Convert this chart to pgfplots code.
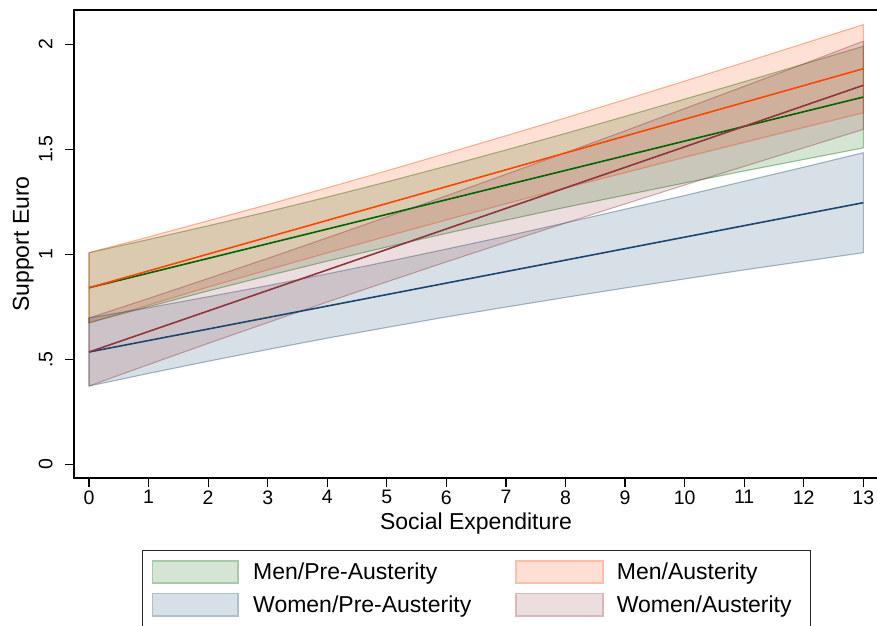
\documentclass[border=0pt]{standalone}
\usepackage{fontspec}
\setmainfont{Liberation Sans}
\usepackage{pgfplots}
\pgfplotsset{compat=1.18}
\definecolor{cgreen}{RGB}{0,100,0}
\definecolor{corange}{RGB}{255,69,0}
\definecolor{cnavy}{RGB}{26,71,111}
\definecolor{cmaroon}{RGB}{144,53,59}
\tikzset{band/.style={fill=#1, fill opacity=0.17, draw=#1, draw opacity=0.38, line width=1.1pt, line join=round}}
\begin{document}
\begin{tikzpicture}
\path[use as bounding box] (0,0) rectangle (877pt,625pt);
\clip (0,0) rectangle (877pt,625pt);
\begin{axis}[
  at={(74pt,147pt)}, anchor=south west,
  scale only axis, width=804pt, height=468pt,
  xmin=-0.252, xmax=13.247, ymin=-0.065, ymax=2.1636,
  axis line style={line width=1.3pt},
  xtick={0,...,13}, ytick={0,0.5,1,1.5,2}, yticklabels={0,.5,1,1.5,2},
  xtick pos=bottom, ytick pos=left, tick align=outside,
  major tick length=9pt, tick style={line width=1.2pt, black},
  /pgf/number format/assume math mode=true,
  ticklabel style={font=\fontsize{19.5}{22}\selectfont},
  yticklabel style={xshift=-9pt, rotate=90, anchor=south},
  xlabel={Social Expenditure}, ylabel={Support Euro},
  label style={font=\fontsize{23}{27}\selectfont},
  xlabel style={at={(axis description cs:0.5,-0.111)}, anchor=base},
  ylabel style={at={(axis description cs:-0.056,0.5)}, anchor=base},
]
% Men/Pre-Austerity band
\addplot[band=cgreen] coordinates {
 (0,1.008)(1,1.071)(2,1.136)(3,1.203)(4,1.273)(5,1.345)(6,1.420)(7,1.497)(8,1.576)(9,1.657)(10,1.739)(11,1.822)(12,1.906)(13,1.991)
 (13,1.507)(12,1.452)(11,1.397)(10,1.340)(9,1.282)(8,1.224)(7,1.163)(6,1.100)(5,1.035)(4,0.968)(3,0.898)(2,0.826)(1,0.751)(0,0.674)(0,1.008)};
% Men/Austerity band
\addplot[band=corange] coordinates {
 (0,1.008)(1,1.083)(2,1.160)(3,1.237)(4,1.317)(5,1.398)(6,1.481)(7,1.565)(8,1.650)(9,1.737)(10,1.825)(11,1.914)(12,2.004)(13,2.094)
 (13,1.674)(12,1.604)(11,1.533)(10,1.462)(9,1.389)(8,1.316)(7,1.241)(6,1.164)(5,1.086)(4,1.007)(3,0.926)(2,0.844)(1,0.759)(0,0.674)(0,1.008)};
% Women/Pre-Austerity band
\addplot[band=cnavy] coordinates {
 (0,0.697)(1,0.746)(2,0.798)(3,0.851)(4,0.907)(5,0.965)(6,1.025)(7,1.086)(8,1.150)(9,1.215)(10,1.280)(11,1.348)(12,1.415)(13,1.484)
 (13,1.008)(12,0.967)(11,0.926)(10,0.883)(9,0.840)(8,0.795)(7,0.749)(6,0.702)(5,0.652)(4,0.601)(3,0.547)(2,0.491)(1,0.433)(0,0.373)(0,0.697)};
% Women/Austerity band
\addplot[band=cmaroon] coordinates {
 (0,0.697)(1,0.790)(2,0.885)(3,0.981)(4,1.079)(5,1.178)(6,1.279)(7,1.381)(8,1.484)(9,1.588)(10,1.694)(11,1.800)(12,1.907)(13,2.015)
 (13,1.595)(12,1.507)(11,1.419)(10,1.330)(9,1.240)(8,1.149)(7,1.057)(6,0.964)(5,0.869)(4,0.773)(3,0.675)(2,0.576)(1,0.475)(0,0.373)(0,0.697)};
% lines
\addplot[cgreen, line width=1.6pt] coordinates {(0,0.841)(13,1.749)};
\addplot[corange, line width=1.6pt] coordinates {(0,0.841)(13,1.884)};
\addplot[cnavy, line width=1.6pt] coordinates {(0,0.535)(13,1.246)};
\addplot[cmaroon, line width=1.6pt] coordinates {(0,0.535)(13,1.805)};
\end{axis}
% legend
\draw[line width=1pt, black!85] (142.7pt,74.3pt) rectangle (810pt,-20pt);
\draw[fill=cgreen!17, draw=cgreen!35, line width=1.6pt] (152.3pt,42.3pt) rectangle (238pt,64.3pt);
\draw[fill=cnavy!17, draw=cnavy!35, line width=1.6pt] (152.3pt,9.3pt) rectangle (238pt,31.7pt);
\draw[fill=corange!17, draw=corange!35, line width=1.6pt] (516pt,42.3pt) rectangle (602.7pt,64.3pt);
\draw[fill=cmaroon!17, draw=cmaroon!35, line width=1.6pt] (516pt,9.3pt) rectangle (602.7pt,31.7pt);
\begin{scope}[every node/.style={anchor=base west, inner sep=0pt, font=\fontsize{23}{27}\selectfont}]
\node at (253pt,45.1pt) {Men/Pre-Austerity};
\node at (253pt,12.3pt) {Women/Pre-Austerity};
\node at (616.7pt,45.1pt) {Men/Austerity};
\node at (616.7pt,12.3pt) {Women/Austerity};
\end{scope}
\end{tikzpicture}
\end{document}
